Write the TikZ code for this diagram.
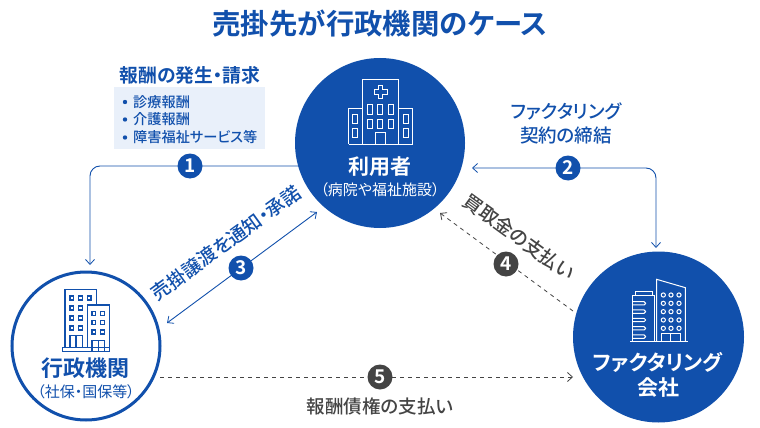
\documentclass[tikz,border=0pt]{standalone}
\usepackage{fontspec}
\usetikzlibrary{arrows.meta,calc}
\setmainfont{Noto Sans CJK JP}[BoldFont={Noto Sans CJK JP Bold},RawFeature={+palt}]
\newfontfamily\jpm{Noto Sans CJK JP Medium}[RawFeature={+palt}]
\definecolor{bl}{HTML}{1150AC}
\definecolor{dk}{HTML}{444444}
\definecolor{pale}{HTML}{E9F0FA}
\newcommand{\fsz}[1]{\fontsize{#1}{#1}\selectfont}
\tikzset{
  x=1pt,y=-1pt,
  tip/.style={-{Straight Barb[length=5pt,width=9pt,line width=.8pt]}},
  conn/.style={draw=bl,line width=.9pt,rounded corners=10pt},
  dconn/.style={draw=dk,line width=.8pt,dash pattern=on 4pt off 4pt},
  badge/.style={circle,fill=#1,text=white,inner sep=0pt,minimum size=25pt,font=\fsz{19}\bfseries},
  filled/.style={circle,fill=bl,draw=none,inner sep=0pt,minimum size=#1},
  lab/.style={text=bl,inner sep=0pt,align=center},
  wlab/.style={text=white,inner sep=0pt,align=center},
  icw/.style={draw=white,line width=1pt},
  icb/.style={draw=bl,line width=1.2pt},
}
\begin{document}
\begin{tikzpicture}
\useasboundingbox (0,0) rectangle (760,428);
\fill[white] (0,0) rectangle (760,428);
% circles
\node[filled=170pt] (user) at (380,143) {};
\node[filled=171pt] (fact) at (658.5,337) {};
\node[circle,draw=bl,line width=3pt,fill=white,inner sep=0pt,minimum size=148pt] (gov) at (86,346) {};
% title
\node[lab,font=\fsz{28.4}\bfseries] (title) at (380,24) {売掛先が行政機関のケース};
% box
\node[fill=pale,minimum width=151pt,minimum height=62pt,inner sep=0pt] (box) at (189.5,118) {};
\node[lab,font=\fsz{18.8}\bfseries] (boxt) at (190,75) {報酬の発生・請求};
\node[lab,font=\fsz{14.2}\jpm,anchor=west] (l1) at (133,102) {診療報酬};
\node[lab,font=\fsz{14.2}\jpm,anchor=west] (l2) at (133,119.5) {介護報酬};
\node[lab,font=\fsz{14.2}\jpm,anchor=west] (l3) at (133,137.5) {障害福祉サービス等};
\fill[bl] (125,102) circle (2.2) (125,119.5) circle (2.2) (125,137.5) circle (2.2);
% connectors
\coordinate (c1s) at (300,166); \coordinate (c1m) at (90,166); \coordinate (c1e) at (90,265);
\draw[conn,tip] (c1s) -- (c1m) -- (c1e);
\coordinate (c2s) at (472,168); \coordinate (c2m) at (656,168); \coordinate (c2e) at (656,248);
\draw[conn,{Straight Barb[length=5pt,width=9pt,line width=.8pt]}-{Straight Barb[length=5pt,width=9pt,line width=.8pt]}] (c2s) -- (c2m) -- (c2e);
\coordinate (c3s) at (167,323); \coordinate (c3e) at (317,212);
\draw[conn,{Straight Barb[length=5pt,width=9pt,line width=.8pt]}-{Straight Barb[length=5pt,width=9pt,line width=.8pt]}] (c3s) -- (c3e);
\coordinate (c4s) at (573,311); \coordinate (c4e) at (440,213);
\draw[dconn,-{Straight Barb[length=5pt,width=9pt,line width=.8pt]}] (c4s) -- (c4e);
\coordinate (c5s) at (160,377); \coordinate (c5e) at (573,377);
\draw[dconn,-{Straight Barb[length=5pt,width=9pt,line width=.8pt]}] (c5s) -- (c5e);
% badges
\node[badge=bl] (b1) at (190,166) {1};
\node[badge=bl] (b2) at (568,168) {2};
\node[badge=bl] (b3) at (241,268) {3};
\node[badge=dk] (b4) at (506,264) {4};
\node[badge=dk] (b5) at (380,377) {5};
% labels
\node[lab,font=\fsz{18.5}\jpm] (t2) at (566,123) {ファクタリング\\[5.5pt]契約の締結};
\node[lab,font=\fsz{19}\jpm,rotate=36] (t3) at (226,243) {売掛譲渡を通知・承諾};
\node[text=dk,inner sep=0pt,font=\fsz{19}\jpm,rotate=-36] (t4) at (519,237) {買取金の支払い};
\node[text=dk,inner sep=0pt,font=\fsz{18.5}\jpm] (t5) at (380,406) {報酬債権の支払い};
% circle texts
\node[wlab,font=\fsz{21}\bfseries] (u1) at (380,167) {利用者};
\node[wlab,font=\fsz{15}] (u2) at (380,190) {（病院や福祉施設）};
\node[lab,font=\fsz{22}\bfseries] (g1) at (85,368) {行政機関};
\node[lab,font=\fsz{15}] (g2) at (86,392) {（社保・国保等）};
\node[wlab,font=\fsz{21}\bfseries] (f1) at (658,362) {ファクタリング};
\node[wlab,font=\fsz{21}\bfseries] (f2) at (658,388) {会社};
% hospital icon (zoom coordinates)
\begin{scope}[shift={(280,50)},x=.3333pt,y=-.3333pt]
\draw[icw] (206,283) -- (206,176) -- (248,176) (248,283) -- (248,88) -- (355,88) -- (355,283) (355,176) -- (398,176) -- (398,283) -- (206,283);
\draw[icw] (296,107) -- (309,107) -- (309,120) -- (322,120) -- (322,134) -- (309,134) -- (309,147) -- (296,147) -- (296,134) -- (283,134) -- (283,120) -- (296,120) -- cycle;
\foreach \a in {262,294,326}\foreach \b in {165,208}\draw[icw] (\a,\b) rectangle (\a+15,\b+28);
\foreach \a in {218,372}\foreach \b in {193,237}\draw[icw] (\a,\b) rectangle (\a+14,\b+27);
\draw[icw] (286,283) -- (286,248) -- (317,248) -- (317,283);
\end{scope}
% government icon
\begin{scope}[shift={(0,270)},x=.3333pt,y=-.3333pt]
\draw[icb] (195,232) -- (195,58) -- (290,58) -- (290,105);
\draw[icb] (263,232) -- (263,105) -- (328,105) -- (328,232);
\draw[icb] (187,232) rectangle (328,245);
\foreach \a in {210,236,262}\draw[icb] (\a,78) rectangle (\a+11,90);
\foreach \a in {210,236}\foreach \b in {108,138,168}\draw[icb] (\a,\b) rectangle (\a+11,\b+12);
\foreach \a in {276,302}\foreach \b in {124,152,180}\draw[icb] (\a,\b) rectangle (\a+11,\b+12);
\draw[icb] (210,232) -- (210,197) -- (247,197) -- (247,232) (228,197) -- (228,232);
\draw[icb] (276,245) -- (276,211) -- (314,211) -- (314,245) (295,211) -- (295,245);
\end{scope}
% factoring icon
\begin{scope}[shift={(560,240)},x=.3333pt,y=-.3333pt]
\draw[icw] (210,305) -- (383,305);
\draw[icw] (218,305) -- (218,168) -- (283,168) -- (283,305);
\draw[icw] (227,168) -- (227,156) -- (278,156) -- (278,168);
\foreach \b in {185,210,235,260,285}\draw[icw,rounded corners=1.6pt] (218,\b) -- (257,\b) -- (257,\b+10) -- (218,\b+10);
\draw[icw] (290,305) -- (290,118) -- (376,143) -- (376,305);
\foreach \a in {310,333,357}\foreach \b in {165,190,215,240,265}\draw[icw] (\a,\b) circle [radius=2.1pt];
\draw[icw] (305,305) -- (305,281) -- (361,281) -- (361,305) (333,281) -- (333,305);
\end{scope}
\end{tikzpicture}
\end{document}
